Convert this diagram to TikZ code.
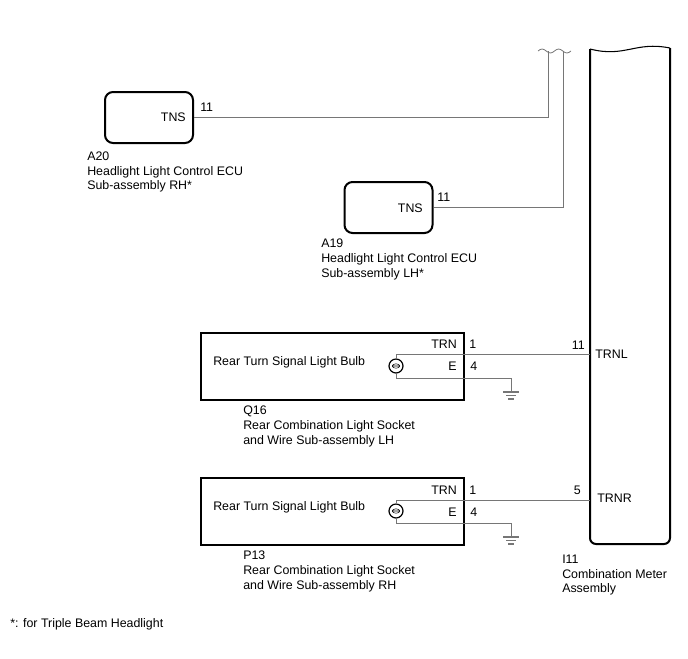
\documentclass[tikz,border=0pt]{standalone}
\usepackage{fontspec}
\setmainfont{Liberation Sans}
\usetikzlibrary{positioning}
\definecolor{wiregray}{RGB}{118,118,118}
\tikzset{
	ecu/.style={draw,line width=1.5pt,rounded corners=6pt,minimum width=66pt,minimum height=38.25pt},
	socket/.style={draw,line width=1.5pt,minimum width=197.25pt,minimum height=50.25pt},
	txt/.style={inner sep=0pt,align=left,font=\fontsize{9.3}{10.9}\selectfont},
	wire/.style={draw=wiregray,line width=0.6pt},
	bulb/.style={draw,circle,line width=0.9pt,minimum size=10.5pt,inner sep=0pt},
	meter/.style={line width=1.5pt,rounded corners=4.5pt}
}
\newcommand{\earth}[1]{\draw[wire,line width=0.8pt] (#1) ++(-8,0) -- ++(16,0) ++(-13,3.5) -- ++(10,0) ++(-8,3.5) -- ++(6,0);}
\newcommand{\filament}[1]{\draw[line width=0.4pt] (#1) ellipse [x radius=3.8,y radius=2.2] (#1) ++(-3.8,0) -- ++(7.6,0);}

\begin{document}
\begin{tikzpicture}[x=0.75pt,y=-0.75pt]
	\useasboundingbox (0,0) rectangle (688,658);
	% headlight ECUs
	\node[ecu] (a20) at (149,117.5) {};
	\node[ecu] (a19) at (388.5,207.5) {};
	\node[txt,anchor=east] (a20tns) at (186,117) {TNS};
	\node[txt,anchor=west] (a20p) at (200,107) {11};
	\node[txt,anchor=east] (a19tns) at (423,208) {TNS};
	\node[txt,anchor=west] (a19p) at (437,197) {11};
	\node[txt,anchor=north west] (a20lbl) at (87,152) {A20\\Headlight Light Control ECU\\Sub-assembly RH*};
	\node[txt,anchor=north west] (a19lbl) at (321,239) {A19\\Headlight Light Control ECU\\Sub-assembly LH*};
	\coordinate (brk1) at (548,51);
	\coordinate (brk2) at (563,51);
	\draw[wire] (a20.east) -| (brk1);
	\draw[wire] (a19.east) -| (brk2);
	\draw[wire] (538,51) sin (542.1,49) cos (546.2,51) sin (550.4,53) cos (554.5,51) sin (558.6,49) cos (562.8,51) sin (566.9,53) cos (571,51);
	% combination meter
	\draw[line width=0.8pt] (590,49) .. controls (625,58) and (635,41) .. (670,48);
	\draw[meter] (670,48) -- (670,544) -- (590,544) -- (590,49);
	\coordinate (trnl) at (590,354);
	\coordinate (trnr) at (590,500);
	\node[txt,anchor=east] (mp11) at (585,345) {11};
	\node[txt,anchor=west] (mtrnl) at (595,354) {TRNL};
	\node[txt,anchor=east] (mp5) at (581,490) {5};
	\node[txt,anchor=west] (mtrnr) at (597,498) {TRNR};
	\node[txt,anchor=north west] (i11lbl) at (562,555) {I11\\Combination Meter\\Assembly};
	% rear combination light LH
	\node[socket] (q16) at (332.5,366.5) {};
	\node[txt,anchor=west] (q16txt) at (213,362) {Rear Turn Signal Light Bulb};
	\node[txt,anchor=east] (q16trn) at (457,344) {TRN};
	\node[txt,anchor=west] (q16p1) at (469,344) {1};
	\node[txt,anchor=east] (q16e) at (457,366) {E};
	\node[txt,anchor=west] (q16p4) at (470,366) {4};
	\node[bulb] (bulbL) at (396,366) {};
	\filament{bulbL.center}
	\coordinate (eL) at (511,378);
	\coordinate (gndL) at (511,392);
	\draw[wire] (bulbL.north) |- (trnl);
	\draw[wire] (bulbL.south) |- (eL) -- (gndL);
	\earth{gndL}
	\node[txt,anchor=north west] (q16lbl) at (243,406) {Q16\\Rear Combination Light Socket\\and Wire Sub-assembly LH};
	% rear combination light RH
	\node[socket] (p13) at (332.5,511.5) {};
	\node[txt,anchor=west] (p13txt) at (213,507) {Rear Turn Signal Light Bulb};
	\node[txt,anchor=east] (p13trn) at (457,490) {TRN};
	\node[txt,anchor=west] (p13p1) at (469,490) {1};
	\node[txt,anchor=east] (p13e) at (457,512) {E};
	\node[txt,anchor=west] (p13p4) at (470,512) {4};
	\node[bulb] (bulbR) at (396,511) {};
	\filament{bulbR.center}
	\coordinate (eR) at (511,523);
	\coordinate (gndR) at (511,537);
	\draw[wire] (bulbR.north) |- (trnr);
	\draw[wire] (bulbR.south) |- (eR) -- (gndR);
	\earth{gndR}
	\node[txt,anchor=north west] (p13lbl) at (243,551) {P13\\Rear Combination Light Socket\\and Wire Sub-assembly RH};
	% note
	\node[txt,anchor=north west] (note) at (10,618) {*: for Triple Beam Headlight};
\end{tikzpicture}
\end{document}
